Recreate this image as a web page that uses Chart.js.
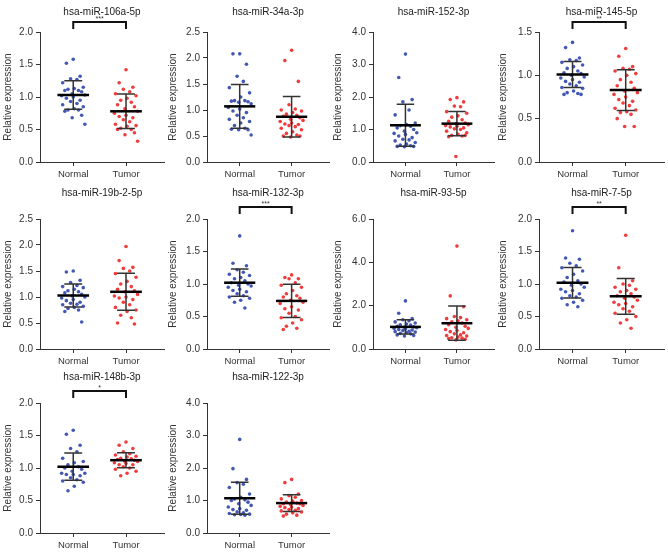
<!DOCTYPE html>
<html>
<head>
<meta charset="utf-8">
<script src="https://cdn.jsdelivr.net/npm/chart.js@4.4.1/dist/chart.umd.min.js"></script>
<style>
  body { margin: 0; background: #fff; }
  #wrap { position: relative; width: 668px; height: 554px; overflow: hidden; }
  #wrap canvas { position: absolute; }
</style>
</head>
<body>
<div id="wrap"></div>
<script>
const groups = ['Normal', 'Tumor'];
const titles = ['hsa-miR-106a-5p', 'hsa-miR-34a-3p', 'hsa-miR-152-3p', 'hsa-miR-145-5p',
  'hsa-miR-19b-2-5p', 'hsa-miR-132-3p', 'hsa-miR-93-5p', 'hsa-miR-7-5p',
  'hsa-miR-148b-3p', 'hsa-miR-122-3p'];
const yMax = [2, 2.5, 4, 1.5, 2.5, 2, 6, 2, 2, 4];
const yStep = [0.5, 0.5, 1, 0.5, 0.5, 0.5, 2, 0.5, 0.5, 1];
const stars = ['***', '', '', '**', '', '***', '', '**', '*', ''];

const normalValues = [
  [1.58, 1.52, 1.32, 1.28, 1.27, 1.22, 1.15, 1.13, 1.12, 1.10, 1.10, 1.08, 1.05, 1.03, 1.02, 1.00, 0.98, 0.95, 0.93, 0.90, 0.88, 0.85, 0.82, 0.80, 0.80, 0.78, 0.72, 0.68, 0.58],
  [2.08, 2.08, 1.88, 1.65, 1.55, 1.43, 1.33, 1.25, 1.18, 1.18, 1.17, 1.16, 1.15, 1.12, 1.05, 1.02, 0.98, 0.95, 0.90, 0.85, 0.82, 0.78, 0.75, 0.70, 0.65, 0.63, 0.62, 0.62, 0.52],
  [3.32, 2.60, 1.92, 1.85, 1.60, 1.45, 1.20, 1.15, 1.12, 1.10, 1.05, 1.00, 0.95, 0.90, 0.88, 0.85, 0.80, 0.75, 0.70, 0.68, 0.65, 0.60, 0.55, 0.52, 0.50, 0.48, 0.48, 0.47],
  [1.38, 1.32, 1.20, 1.18, 1.17, 1.15, 1.12, 1.10, 1.08, 1.05, 1.03, 1.02, 1.00, 0.98, 0.97, 0.95, 0.93, 0.92, 0.90, 0.88, 0.86, 0.85, 0.82, 0.80, 0.79, 0.78, 0.78],
  [1.50, 1.48, 1.32, 1.28, 1.22, 1.20, 1.18, 1.15, 1.12, 1.10, 1.08, 1.05, 1.02, 1.00, 0.98, 0.95, 0.93, 0.90, 0.88, 0.86, 0.85, 0.82, 0.80, 0.78, 0.75, 0.72, 0.52],
  [1.74, 1.32, 1.28, 1.22, 1.18, 1.15, 1.13, 1.10, 1.08, 1.05, 1.02, 1.00, 0.98, 0.97, 0.95, 0.92, 0.90, 0.88, 0.85, 0.82, 0.80, 0.78, 0.75, 0.72, 0.63],
  [2.22, 1.65, 1.40, 1.35, 1.30, 1.25, 1.20, 1.15, 1.12, 1.10, 1.05, 1.02, 1.00, 0.98, 0.95, 0.92, 0.90, 0.88, 0.85, 0.82, 0.80, 0.78, 0.75, 0.72, 0.70, 0.65, 0.62, 0.60],
  [1.82, 1.40, 1.38, 1.32, 1.28, 1.25, 1.20, 1.15, 1.10, 1.05, 1.03, 1.00, 0.98, 0.95, 0.92, 0.90, 0.88, 0.85, 0.82, 0.80, 0.78, 0.75, 0.72, 0.68, 0.65],
  [1.58, 1.52, 1.35, 1.30, 1.25, 1.15, 1.10, 1.08, 1.05, 1.02, 1.00, 0.98, 0.95, 0.92, 0.92, 0.90, 0.90, 0.88, 0.85, 0.82, 0.80, 0.78, 0.72, 0.65],
  [2.88, 1.98, 1.65, 1.55, 1.50, 1.40, 1.20, 1.10, 1.05, 1.02, 1.00, 0.95, 0.90, 0.85, 0.80, 0.75, 0.72, 0.70, 0.65, 0.62, 0.60, 0.58, 0.57, 0.56, 0.55]
];
const tumorValues = [
  [1.42, 1.22, 1.15, 1.12, 1.08, 1.05, 1.02, 0.98, 0.95, 0.92, 0.88, 0.85, 0.82, 0.78, 0.75, 0.72, 0.70, 0.68, 0.65, 0.62, 0.58, 0.56, 0.55, 0.52, 0.50, 0.50, 0.45, 0.42, 0.32],
  [2.15, 1.95, 1.55, 1.10, 1.02, 1.00, 0.98, 0.95, 0.92, 0.90, 0.88, 0.85, 0.82, 0.80, 0.78, 0.75, 0.73, 0.72, 0.70, 0.68, 0.65, 0.62, 0.58, 0.55, 0.52, 0.50, 0.50, 0.48],
  [1.98, 1.92, 1.85, 1.72, 1.70, 1.55, 1.50, 1.42, 1.38, 1.30, 1.25, 1.20, 1.18, 1.15, 1.12, 1.10, 1.08, 1.05, 1.02, 1.00, 0.95, 0.90, 0.85, 0.82, 0.80, 0.78, 0.82, 0.17],
  [1.31, 1.22, 1.10, 1.08, 1.07, 1.05, 1.02, 1.00, 0.95, 0.92, 0.88, 0.85, 0.82, 0.80, 0.78, 0.75, 0.72, 0.70, 0.68, 0.65, 0.62, 0.60, 0.58, 0.57, 0.55, 0.50, 0.41, 0.41],
  [1.97, 1.70, 1.57, 1.55, 1.50, 1.45, 1.38, 1.30, 1.25, 1.20, 1.15, 1.12, 1.10, 1.05, 1.02, 1.00, 0.98, 0.95, 0.90, 0.85, 0.80, 0.75, 0.72, 0.65, 0.60, 0.50, 0.48],
  [1.14, 1.10, 1.08, 1.08, 1.02, 0.98, 0.95, 0.90, 0.85, 0.82, 0.80, 0.78, 0.75, 0.72, 0.70, 0.65, 0.62, 0.60, 0.55, 0.50, 0.48, 0.45, 0.40, 0.35, 0.32, 0.30],
  [4.75, 2.45, 1.95, 1.50, 1.45, 1.40, 1.35, 1.30, 1.25, 1.20, 1.12, 1.05, 1.00, 0.95, 0.90, 0.85, 0.80, 0.75, 0.70, 0.65, 0.62, 0.60, 0.55, 0.52, 0.50, 0.48, 0.45, 0.42],
  [1.75, 1.25, 1.05, 1.00, 0.98, 0.95, 0.92, 0.90, 0.88, 0.85, 0.82, 0.80, 0.78, 0.75, 0.72, 0.70, 0.68, 0.65, 0.62, 0.58, 0.55, 0.50, 0.45, 0.40, 0.32],
  [1.40, 1.35, 1.30, 1.25, 1.22, 1.20, 1.18, 1.17, 1.15, 1.14, 1.13, 1.12, 1.10, 1.10, 1.08, 1.07, 1.05, 1.05, 1.02, 1.00, 0.98, 0.95, 0.92, 0.88],
  [1.65, 1.55, 1.20, 1.15, 1.10, 1.05, 1.00, 0.98, 0.95, 0.92, 0.90, 0.90, 0.88, 0.85, 0.82, 0.80, 0.78, 0.75, 0.72, 0.70, 0.68, 0.65, 0.62, 0.58, 0.55, 0.52]
];
const normalMean = [1.03, 1.07, 1.13, 1.01, 1.03, 1.02, 1.02, 1.02, 1.02, 1.07];
const normalSd = [0.22, 0.42, 0.645, 0.15, 0.22, 0.21, 0.325, 0.235, 0.21, 0.49];
const tumorMean = [0.78, 0.87, 1.18, 0.83, 1.10, 0.74, 1.19, 0.81, 1.12, 0.92];
const tumorSd = [0.265, 0.39, 0.375, 0.235, 0.355, 0.255, 0.79, 0.275, 0.115, 0.255];

// layout
const colLeft = [0, 165, 330, 495];
const colWidth = [168, 168, 168, 173];
const axisWidth = [40, 42, 43, 44];
const rowTop = [0, 187, 371];
const jitter = [0, -0.13, 0.13, -0.05, 0.07, -0.2, 0.19, 0.02, -0.1, 0.1, -0.16, 0.16, -0.02, 0.22, -0.22];

Chart.defaults.font.family = '"Liberation Sans", Arial, sans-serif';
Chart.defaults.color = '#333';

const bracket = {
  id: 'bracket',
  afterDraw(chart, args, opts) {
    if (!opts.text) return;
    const { ctx, chartArea, scales } = chart;
    const x1 = scales.x.getPixelForValue(1);
    const x2 = scales.x.getPixelForValue(2);
    const yTop = chartArea.top - 10 - opts.lift;
    const yBot = chartArea.top - 3 - opts.lift;
    ctx.save();
    ctx.strokeStyle = '#111';
    ctx.lineWidth = 2;
    ctx.beginPath();
    ctx.moveTo(x1, yBot);
    ctx.lineTo(x1, yTop);
    ctx.lineTo(x2, yTop);
    ctx.lineTo(x2, yBot);
    ctx.stroke();
    ctx.fillStyle = '#333';
    ctx.font = '7px "Liberation Sans", Arial, sans-serif';
    ctx.textAlign = 'center';
    ctx.textBaseline = 'alphabetic';
    ctx.fillText(opts.text, (x1 + x2) / 2, yTop - 1);
    ctx.restore();
  }
};

function errorSets(c, m, s) {
  return [
    { data: [{ x: c - 0.3, y: m }, { x: c + 0.3, y: m }], borderWidth: 2.5, borderColor: '#000' },
    { data: [{ x: c, y: m - s }, { x: c, y: m + s }, { x: c, y: null },
             { x: c - 0.17, y: m + s }, { x: c + 0.17, y: m + s }, { x: c, y: null },
             { x: c - 0.17, y: m - s }, { x: c + 0.17, y: m - s }],
      borderWidth: 1.5, borderColor: '#333' }
  ].map(d => Object.assign(d, { showLine: true, pointRadius: 0, spanGaps: false, order: 0 }));
}

const wrap = document.getElementById('wrap');
titles.forEach((title, i) => {
  const row = Math.floor(i / 4), col = i % 4;
  const cv = document.createElement('canvas');
  cv.width = colWidth[col];
  cv.height = 185;
  cv.style.left = colLeft[col] + 'px';
  cv.style.top = rowTop[row] + 'px';
  wrap.appendChild(cv);

  const pts = (vals, c) => vals.map((v, k) => ({ x: c + jitter[k % jitter.length], y: v }));
  // first row is tighter above the plot than the others
  const titlePad = row === 0 ? { top: 6, bottom: 14 } : { top: 0, bottom: 20 };

  new Chart(cv, {
    type: 'scatter',
    data: {
      datasets: [
        ...errorSets(1, normalMean[i], normalSd[i]),
        ...errorSets(2, tumorMean[i], tumorSd[i]),
        { data: pts(normalValues[i], 1), backgroundColor: '#4358b4', pointRadius: 1.8, borderWidth: 0, order: 1 },
        { data: pts(tumorValues[i], 2), backgroundColor: '#f03c3c', pointRadius: 1.8, borderWidth: 0, order: 1 }
      ]
    },
    options: {
      responsive: false,
      animation: false,
      devicePixelRatio: 1,
      layout: { padding: { left: 0, right: 1, top: 0, bottom: 0 } },
      plugins: {
        legend: { display: false },
        tooltip: { enabled: false },
        title: {
          display: true, text: title, fullSize: false, color: '#222',
          font: { size: 10, weight: 'normal' }, padding: titlePad
        },
        bracket: { text: stars[i], lift: row === 0 ? 0 : 2 }
      },
      scales: {
        x: {
          type: 'linear', min: 0.37, max: 2.72,
          afterBuildTicks: a => { a.ticks = groups.map((g, k) => ({ value: k + 1 })); },
          afterFit: s => { s.height = 23; },
          ticks: { callback: v => groups[v - 1], font: { size: 9.5 }, padding: 3, color: '#333' },
          grid: { drawOnChartArea: false, tickLength: 4, color: '#333' },
          border: { color: '#333' }
        },
        y: {
          min: 0, max: yMax[i],
          afterFit: s => { s.width = axisWidth[col]; },
          ticks: { stepSize: yStep[i], callback: v => v.toFixed(1), font: { size: 10 }, padding: 3, color: '#333' },
          grid: { drawOnChartArea: false, tickLength: 4, color: '#333' },
          border: { color: '#333' },
          title: { display: true, text: 'Relative expression', font: { size: 10 }, color: '#333', padding: { top: 2, bottom: 0 } }
        }
      }
    },
    plugins: [bracket]
  });
});
</script>
</body>
</html>
